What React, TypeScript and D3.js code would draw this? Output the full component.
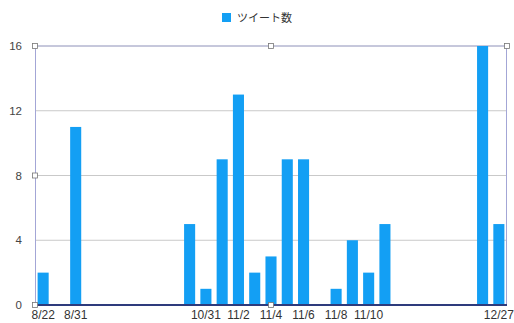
import React from 'react';
import * as d3 from 'd3';

// x categories (one per slot), blank where the chart shows no label
const dates = [
  '8/22', '', '8/31', '', '', '', '', '', '', '',
  '10/31', '', '11/2', '', '11/4', '', '11/6', '', '11/8', '',
  '11/10', '', '', '', '', '', '', '', '12/27',
];
const tweets = [
  2, 0, 11, 0, 0, 0, 0, 0, 0, 5,
  1, 9, 13, 2, 3, 9, 9, 0, 1, 4,
  2, 5, 0, 0, 0, 0, 0, 16, 5,
];
const yTicks = [0, 4, 8, 12, 16];
const seriesName = 'ツイート数';

const W = 514;
const H = 323;
const margin = { top: 46, right: 7, bottom: 18, left: 35 };
const barColor = '#139ff4';
const font = '"Liberation Sans", "Noto Sans CJK JP", sans-serif';

const App = () => {
  const innerW = W - margin.left - margin.right;
  const innerH = H - margin.top - margin.bottom;

  const x = d3.scaleBand<number>()
    .domain(d3.range(tweets.length))
    .range([0, innerW])
    .paddingInner(0.32)
    .paddingOuter(0.16);

  const y = d3.scaleLinear().domain([0, 16]).range([innerH, 0]);

  // little selection handles seen around the plot frame
  const handles = [
    [0, 0], [innerW / 2, 0], [innerW, 0],
    [0, innerH / 2], [0, innerH], [innerW / 2, innerH],
  ];

  return (
    <svg width={W} height={H} style={{ position: 'absolute', left: 0, top: 0, background: '#fff' }}>
      {/* legend */}
      <rect x={222} y={13} width={9} height={9} fill={barColor} />
      <text x={237} y={21.5} fontSize={11} fontFamily={font} fill="#333">{seriesName}</text>

      <g transform={`translate(${margin.left},${margin.top})`}>
        {yTicks.map(t => (
          <g key={t}>
            {t > 0 && (
              <line x1={0} x2={innerW} y1={y(t)} y2={y(t)}
                stroke={t === 16 ? '#8d90b8' : '#c9c9c9'} strokeWidth={1} />
            )}
            <text x={-13} y={y(t)} dy="0.35em" textAnchor="end"
              fontSize={11.5} fontFamily={font} fill="#444">{t}</text>
          </g>
        ))}

        {tweets.map((v, i) => (
          v > 0 ? (
            <rect key={i} x={x(i)} y={y(v)} width={x.bandwidth()}
              height={innerH - y(v)} fill={barColor} />
          ) : null
        ))}

        {/* frame */}
        <line x1={0.5} x2={0.5} y1={0} y2={innerH} stroke="#a3a6d6" />
        <line x1={innerW - 0.5} x2={innerW - 0.5} y1={0} y2={innerH} stroke="#a3a6d6" />
        <line x1={0} x2={innerW} y1={innerH} y2={innerH} stroke="#2e3b7c" strokeWidth={2} />

        {handles.map(([hx, hy], i) => (
          <rect key={i} x={hx - 2.5} y={hy - 2.5} width={5} height={5}
            fill="#fff" stroke="#777" strokeWidth={0.8} />
        ))}

        {dates.map((d, i) => (
          d ? (
            <text key={i} x={(x(i) ?? 0) + x.bandwidth() / 2} y={innerH + 14}
              textAnchor="middle" fontSize={12} fontFamily={font} fill="#333">{d}</text>
          ) : null
        ))}
      </g>
    </svg>
  );
};

export default App;
